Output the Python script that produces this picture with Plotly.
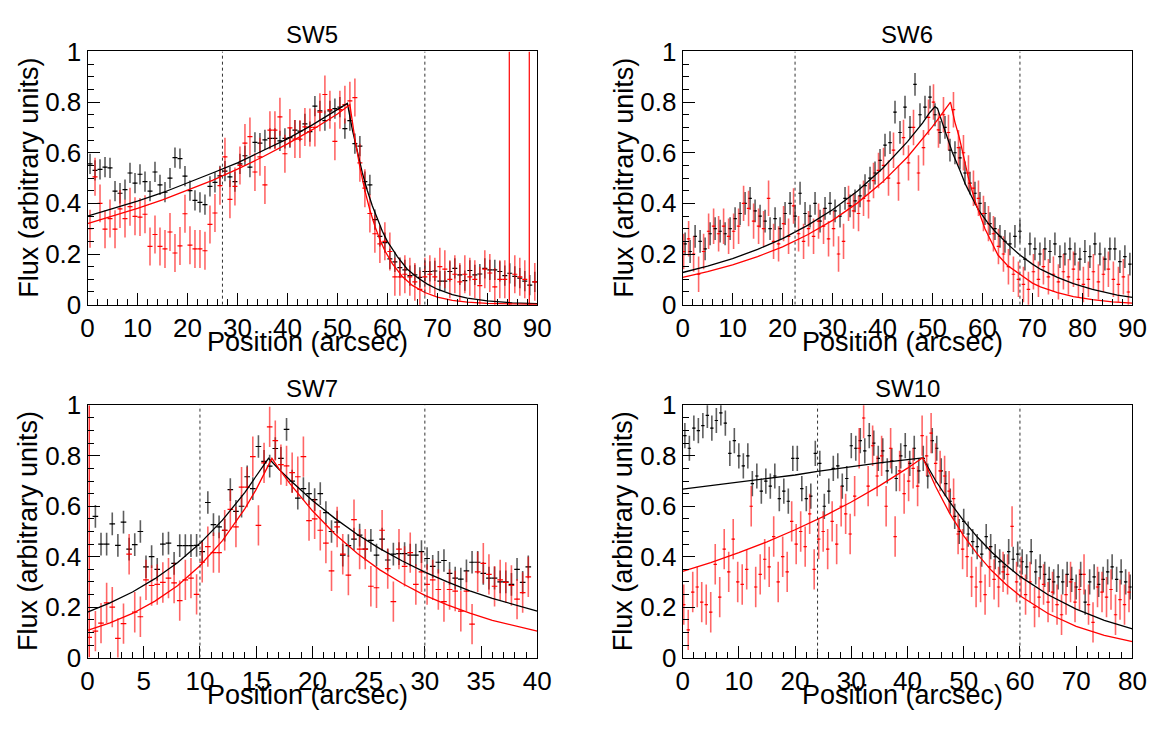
import plotly.graph_objects as go

W, H = 1167, 734
FONT = "Liberation Sans, Arial, Helvetica, sans-serif"

# ---------------- SW5 ----------------
sw5_black_y = [0.556, 0.53, 0.534, 0.543, 0.54, 0.448, 0.44, 0.454, 0.52, 0.48,
               0.515, 0.486, 0.448, 0.524, 0.473, 0.444, 0.50, 0.581, 0.577, 0.508,
               0.45, 0.412, 0.404, 0.395, 0.467, 0.483, 0.509, 0.527, 0.505, 0.486,
               0.556, 0.588, 0.543, 0.641, 0.638, 0.651, 0.657, 0.657, 0.647, 0.657,
               0.66, 0.689, 0.685, 0.714, 0.683, 0.784, 0.765, 0.727, 0.765, 0.774,
               0.78, 0.695, 0.727, 0.636, 0.626, 0.486, 0.473, 0.336, 0.27, 0.245,
               0.181, 0.169, 0.146, 0.137, 0.115, 0.118, 0.108, 0.131, 0.131, 0.133,
               0.093, 0.093, 0.131, 0.143, 0.118, 0.095, 0.135, 0.118, 0.121, 0.143,
               0.137, 0.137, 0.131, 0.115, 0.124, 0.112, 0.105, 0.093, 0.077, 0.09]
sw5_red_y = [0.30, 0.505, 0.40, 0.298, 0.34, 0.298, 0.378, 0.34, 0.387, 0.349,
             0.346, 0.357, 0.23, 0.277, 0.23, 0.22, 0.287, 0.204, 0.232, 0.359,
             0.235, 0.22, 0.22, 0.213, 0.317, 0.362, 0.47, 0.584, 0.416, 0.467,
             0.55, 0.638, 0.664, 0.524, 0.584, 0.473, 0.689, 0.689, 0.742, 0.596,
             0.698, 0.654, 0.654, 0.702, 0.70, 0.70, 0.76, 0.83, 0.77, 0.645,
             0.77, 0.79, 0.805, 0.818, 0.56, 0.46, 0.36, 0.28, 0.24, 0.25,
             0.21, 0.11, 0.11, 0.12, 0.11, 0.09, 0.06, 0.11, 0.12, 0.11,
             0.15, 0.14, 0.10, 0.12, 0.09, 0.12, 0.11, 0.10, 0.075, 0.14,
             0.125, 0.07, 0.10, 0.10, None, 0.12, 0.11, 0.10, None, 0.09]
sw5_black_x = [0.5 + i for i in range(len(sw5_black_y))]
sw5_red_x = [0.5 + i for i in range(len(sw5_red_y))]
sw5_red_out_x = [84.4, 88.4]
sw5_red_out_y = [0.003, 0.003]
sw5_fit_black_x = [0, 5, 10, 15, 20, 25, 30, 35, 40, 45, 50, 52, 53, 54, 55, 56, 57, 58, 59, 60,
                   62, 64, 66, 68, 70, 73, 76, 80, 85, 90]
sw5_fit_black_y = [0.350, 0.379, 0.409, 0.442, 0.480, 0.520, 0.560, 0.606, 0.655, 0.710, 0.770,
                   0.795, 0.69, 0.60, 0.52, 0.45, 0.39, 0.34, 0.29, 0.25, 0.19, 0.14, 0.107,
                   0.081, 0.061, 0.040, 0.026, 0.015, 0.007, 0.004]
sw5_fit_red_x = [0, 5, 10, 15, 20, 25, 30, 35, 40, 45, 50, 52.5, 53.5, 54.5, 55.5, 56.5, 57.5,
                 58.5, 59.5, 61, 63, 65, 67.5, 70, 73, 76, 80, 85, 90]
sw5_fit_red_y = [0.320, 0.349, 0.380, 0.414, 0.451, 0.491, 0.535, 0.583, 0.635, 0.691, 0.753,
                 0.790, 0.655, 0.543, 0.450, 0.374, 0.310, 0.257, 0.213, 0.162, 0.111, 0.076,
                 0.048, 0.030, 0.017, 0.010, 0.005, 0.002, 0.001]
sw5_dashes = [27, 67.5]

# ---------------- SW6 ----------------
sw6_black_y = [0.24, 0.21, 0.27, 0.25, 0.22, 0.28, 0.30, 0.29, 0.28, 0.30,
               0.34, 0.36, 0.40, 0.42, 0.37, 0.35, 0.33, 0.30, 0.34, 0.30,
               0.36, 0.40, 0.35, 0.44, 0.36, 0.35, 0.40, 0.33, 0.38, 0.40,
               0.37, 0.35, 0.42, 0.39, 0.41, 0.43, 0.47, 0.50, 0.52, 0.57,
               0.63, 0.64, 0.76, 0.68, 0.78, 0.70, 0.87, 0.75, 0.78, 0.82,
               0.75, 0.68, 0.70, 0.61, 0.60, 0.58, 0.52, 0.48, 0.44, 0.40,
               0.36, 0.32, 0.30, 0.27, 0.25, 0.24, 0.27, 0.29, 0.18, 0.24,
               0.22, 0.20, 0.22, 0.21, 0.24, 0.19, 0.20, 0.22, 0.20, 0.18,
               0.21, 0.19, 0.24, 0.20, 0.18, 0.22, 0.22, 0.17, 0.19, 0.16]
sw6_red_y = [0.21, 0.26, 0.20, 0.12, 0.21, 0.29, 0.31, 0.28, 0.31, 0.27,
             0.29, 0.31, 0.40, 0.38, 0.33, 0.31, 0.30, 0.42, 0.25, 0.24,
             0.32, 0.27, 0.39, 0.28, 0.25, 0.30, 0.27, 0.33, 0.31, 0.26,
             0.30, 0.20, 0.25, 0.40, 0.37, 0.36, 0.42, 0.41, 0.49, 0.53,
             0.55, 0.50, 0.61, 0.48, 0.66, 0.56, 0.70, 0.52, 0.62, 0.74,
             0.80, 0.69, 0.75, 0.68, 0.77, 0.62, 0.60, 0.52, 0.46, 0.42,
             0.36, 0.32, 0.28, 0.23, 0.20, 0.15, 0.12, 0.10, 0.08, 0.06,
             0.13, 0.10, 0.15, 0.11, 0.12, 0.09, 0.13, 0.11, 0.14, 0.10,
             0.08, 0.10, 0.13, 0.09, 0.12, 0.14, 0.10, 0.08, 0.11, 0.05]
sw6_black_x = [0.5 + i for i in range(len(sw6_black_y))]
sw6_red_x = [0.2 + i for i in range(len(sw6_red_y))]
sw6_fit_black_x = [0, 5, 10, 15, 20, 25, 30, 35, 40, 45, 48, 49.5, 50.5, 51, 52, 53, 54, 55.5,
                   56.6, 58, 59.2, 61, 62.5, 65, 67.5, 70, 71.6, 75, 78.2, 82, 84.7, 87, 90]
sw6_fit_black_y = [0.127, 0.152, 0.182, 0.218, 0.261, 0.313, 0.375, 0.449, 0.538, 0.644, 0.717,
                   0.76, 0.782, 0.775, 0.716, 0.655, 0.600, 0.53, 0.475, 0.42, 0.374, 0.325,
                   0.29, 0.24, 0.196, 0.16, 0.14, 0.108, 0.083, 0.06, 0.047, 0.038, 0.029]
sw6_fit_red_x = [0, 5, 10, 15, 20, 25, 30, 35, 40, 45, 50, 53.6, 54.5, 55.3, 56.3, 57.2, 58.5,
                 60.5, 63.1, 65, 67.5, 70, 71.6, 75, 78.2, 82, 86, 90]
sw6_fit_red_y = [0.108, 0.130, 0.157, 0.190, 0.228, 0.276, 0.333, 0.402, 0.484, 0.583, 0.703,
                 0.80, 0.72, 0.665, 0.58, 0.50, 0.41, 0.30, 0.196, 0.155, 0.12, 0.085, 0.07,
                 0.048, 0.032, 0.02, 0.011, 0.006]
sw6_dashes = [22.5, 67.5]

# ---------------- SW7 ----------------
sw7_black_y = [0.56, 0.45, 0.45, 0.53, 0.445, 0.537, 0.43, 0.448, 0.50, 0.36,
               0.40, 0.35, 0.45, 0.454, 0.374, 0.444, 0.444, 0.444, 0.445, 0.42,
               0.615, 0.527, 0.518, 0.505, 0.666, 0.58, 0.60, 0.717, 0.67, 0.837,
               0.778, 0.759, 0.829, 0.79, 0.905, 0.70, 0.632, 0.67, 0.65, 0.626,
               0.65, 0.575, 0.50, 0.537, 0.406, 0.444, 0.47, 0.486, 0.43, 0.465,
               0.406, 0.47, 0.387, 0.41, 0.412, 0.412, 0.406, 0.406, 0.42, 0.393,
               0.362, 0.378, 0.385, 0.334, 0.315, 0.311, 0.344, 0.378, 0.378, 0.334,
               0.315, 0.315, 0.30, 0.30, 0.29, 0.35, 0.298, 0.36]
sw7_red_y = [0.105, 0.137, 0.217, 0.20, 0.076, 0.135, 0.41, 0.18, 0.162, 0.308,
             0.286, 0.29, 0.298, 0.315, 0.296, 0.226, 0.308, 0.315, 0.251, 0.378,
             0.44, 0.416, 0.416, 0.505, 0.588, 0.518, 0.676, 0.676, 0.797, 0.524,
             0.772, 0.915, 0.86, 0.765, 0.76, 0.733, 0.717, 0.797, 0.543, 0.55,
             0.505, 0.454, 0.344, 0.518, 0.41, 0.327, 0.547, 0.43, 0.43, 0.283,
             0.277, 0.505, 0.353, 0.222, 0.43, 0.362, 0.416, 0.29, 0.34, 0.29,
             0.308, 0.27, 0.222, 0.27, 0.264, 0.184, 0.264, 0.133, 0.34, 0.374,
             0.33, 0.283, 0.308, 0.298, 0.286, 0.232, 0.258, 0.32]
sw7_black_x = [0.7 + 0.5 * i for i in range(len(sw7_black_y))]
sw7_red_x = [0.7 + 0.5 * i for i in range(len(sw7_red_y))]
sw7_red_out_x = [0.15]
sw7_red_out_y = [0.08]
sw7_fit_black_x = [0, 2, 4, 6, 8, 10, 12, 14, 15, 16.1, 17, 18, 20, 22, 24, 26, 28, 30, 32, 34,
                   36, 38, 40]
sw7_fit_black_y = [0.180, 0.217, 0.260, 0.313, 0.376, 0.453, 0.545, 0.655, 0.72, 0.79, 0.748,
                   0.704, 0.623, 0.552, 0.488, 0.432, 0.383, 0.339, 0.300, 0.265, 0.235, 0.208,
                   0.184]
sw7_fit_red_x = [0, 2, 4, 6, 8, 10, 12, 14, 15, 16.4, 17, 18, 20, 22, 24, 26, 28, 30, 32, 34,
                 36, 38, 40]
sw7_fit_red_y = [0.108, 0.138, 0.175, 0.224, 0.285, 0.364, 0.464, 0.591, 0.667, 0.79, 0.750,
                 0.690, 0.582, 0.490, 0.413, 0.348, 0.294, 0.247, 0.209, 0.176, 0.148, 0.125,
                 0.105]
sw7_dashes = [10, 30]

# ---------------- SW10 ----------------
sw10_black_y = [0.88, 0.83, 0.91, 0.90, 0.92, 0.96, 0.91, 0.94, 0.97, 0.93,
                0.81, 0.86, 0.80, 0.76, 0.80, 0.69, 0.72, 0.66, 0.70, 0.68,
                0.72, 0.63, 0.66, 0.62, 0.79, 0.79, 0.67, 0.63, 0.64, 0.81,
                0.77, 0.60, 0.66, 0.75, 0.76, 0.68, 0.71, 0.84, 0.83, 0.86,
                0.82, 0.88, 0.85, 0.79, 0.82, 0.74, 0.78, 0.71, 0.80, 0.84,
                0.77, 0.83, 0.74, 0.79, 0.72, 0.86, 0.83, 0.74, 0.69, 0.62,
                0.56, 0.50, 0.54, 0.49, 0.46, 0.44, 0.41, 0.48, 0.44, 0.40,
                0.38, 0.36, 0.42, 0.39, 0.41, 0.38, 0.36, 0.42, 0.34, 0.36,
                0.33, 0.31, 0.30, 0.32, 0.30, 0.33, 0.31, 0.28, 0.33, 0.22,
                0.30, 0.32, 0.29, 0.31, 0.34, 0.36, 0.31, 0.34, 0.30, 0.28]
sw10_red_y = [0.21, 0.11, 0.26, 0.28, 0.22, 0.21, 0.18, 0.37, 0.24, 0.43,
              0.34, 0.47, 0.30, 0.29, 0.35, 0.60, 0.28, 0.33, 0.39, 0.36,
              0.48, 0.30, 0.40, 0.34, 0.54, 0.45, 0.50, 0.44, 0.57, 0.35,
              0.47, 0.50, 0.43, 0.54, 0.45, 0.60, 0.57, 0.49, 0.64, 0.83,
              0.95, 0.68, 0.84, 0.72, 0.80, 0.60, 0.83, 0.48, 0.74, 0.65,
              0.70, 0.75, 0.68, 0.88, 0.80, 0.89, 0.77, 0.74, 0.72, 0.66,
              0.63, 0.49, 0.43, 0.40, 0.32, 0.28, 0.30, 0.25, 0.36, 0.31,
              0.28, 0.34, 0.33, 0.52, 0.30, 0.32, 0.25, 0.30, 0.20, 0.24,
              0.29, 0.22, 0.26, 0.21, 0.17, 0.25, 0.30, 0.22, 0.27, 0.33,
              0.21, 0.14, 0.28, 0.26, 0.24, 0.27, 0.17, 0.23, 0.21, 0.26]
sw10_black_x = [0.4 + 0.8 * i for i in range(len(sw10_black_y))]
sw10_red_x = [0.2 + 0.8 * i for i in range(len(sw10_red_y))]
sw10_fit_black_x = [0, 10, 20, 24, 30, 35, 40, 42.7, 45, 47.5, 50, 52.5, 55, 57.5, 60, 65, 70,
                    75, 80]
sw10_fit_black_y = [0.668, 0.695, 0.724, 0.738, 0.757, 0.772, 0.785, 0.792, 0.702, 0.617, 0.542,
                    0.476, 0.418, 0.367, 0.322, 0.249, 0.192, 0.148, 0.114]
sw10_fit_red_x = [0, 5, 10, 15, 20, 25, 30, 35, 40, 42.7, 45, 47.5, 50, 52.5, 55, 57.5, 60, 65,
                  70, 75, 80]
sw10_fit_red_y = [0.342, 0.377, 0.416, 0.459, 0.507, 0.559, 0.617, 0.681, 0.751, 0.792, 0.678,
                  0.572, 0.483, 0.408, 0.344, 0.291, 0.245, 0.175, 0.124, 0.088, 0.063]
sw10_dashes = [24, 60]

titles = ["SW5", "SW6", "SW7", "SW10"]
x_ranges = [90, 90, 40, 80]
x_dticks = [10, 10, 5, 10]
x_halfwidth = [0.5, 0.35, 0.25, 0.3]
black_err = [0.04, 0.045, 0.045, 0.05]
red_err = [0.075, 0.07, 0.08, 0.08]

# pixel boxes of the four frames: (left, right, top, bottom)
boxes = [(82, 540, 38, 302), (688, 1146, 38, 302), (82, 540, 407, 670), (688, 1146, 407, 670)]

panels = [
    (sw5_black_x, sw5_black_y, sw5_red_x, sw5_red_y, sw5_fit_black_x, sw5_fit_black_y,
     sw5_fit_red_x, sw5_fit_red_y, sw5_dashes, sw5_red_out_x, sw5_red_out_y),
    (sw6_black_x, sw6_black_y, sw6_red_x, sw6_red_y, sw6_fit_black_x, sw6_fit_black_y,
     sw6_fit_red_x, sw6_fit_red_y, sw6_dashes, [], []),
    (sw7_black_x, sw7_black_y, sw7_red_x, sw7_red_y, sw7_fit_black_x, sw7_fit_black_y,
     sw7_fit_red_x, sw7_fit_red_y, sw7_dashes, sw7_red_out_x, sw7_red_out_y),
    (sw10_black_x, sw10_black_y, sw10_red_x, sw10_red_y, sw10_fit_black_x, sw10_fit_black_y,
     sw10_fit_red_x, sw10_fit_red_y, sw10_dashes, [], []),
]

fig = go.Figure()
layout = dict(width=W, height=H, margin=dict(l=0, r=0, t=0, b=0),
              paper_bgcolor="white", plot_bgcolor="white", showlegend=False,
              font=dict(family=FONT, color="black"))
annotations = []
shapes = []

for k, (bx, by, rx, ry, fbx, fby, frx, fry, dashes, ox, oy) in enumerate(panels):
    n = k + 1
    xa = "x" if n == 1 else f"x{n}"
    ya = "y" if n == 1 else f"y{n}"
    L, R, T, B = boxes[k]
    xdom = [L / W, R / W]
    ydom = [1 - B / H, 1 - T / H]
    common = dict(showline=True, linecolor="black", linewidth=1, mirror=True,
                  showgrid=False, zeroline=False, ticks="inside", ticklen=12,
                  tickwidth=1, tickcolor="black",
                  tickfont=dict(family=FONT, size=26, color="black"))
    layout["xaxis" if n == 1 else f"xaxis{n}"] = dict(
        domain=xdom, range=[0, x_ranges[k]], anchor=ya, tick0=0, dtick=x_dticks[k],
        minor=dict(dtick=x_dticks[k] / 5, ticks="inside", ticklen=6, tickcolor="black"),
        **common)
    layout["yaxis" if n == 1 else f"yaxis{n}"] = dict(
        domain=ydom, range=[0, 1], anchor=xa, tick0=0, dtick=0.2,
        minor=dict(dtick=0.05, ticks="inside", ticklen=6, tickcolor="black"),
        **common)

    # dashed region markers
    for d in dashes:
        shapes.append(dict(type="line", xref=xa, yref=ya, x0=d, x1=d, y0=0, y1=1,
                           line=dict(color="#333333", width=1, dash="3px,3px")))

    # data with error bars
    fig.add_trace(go.Scatter(
        x=bx, y=by, xaxis=xa, yaxis=ya, mode="markers",
        marker=dict(size=1, color="black"),
        error_y=dict(type="constant", value=black_err[k], color="rgba(40,40,40,0.75)",
                     thickness=1.6, width=0),
        error_x=dict(type="constant", value=x_halfwidth[k], color="black",
                     thickness=1.2, width=0)))
    fig.add_trace(go.Scatter(
        x=rx, y=ry, xaxis=xa, yaxis=ya, mode="markers",
        marker=dict(size=1, color="red"),
        error_y=dict(type="constant", value=red_err[k], color="rgba(255,0,0,0.6)",
                     thickness=1.6, width=0),
        error_x=dict(type="constant", value=x_halfwidth[k], color="red",
                     thickness=1.2, width=0)))
    if ox:
        fig.add_trace(go.Scatter(
            x=ox, y=oy, xaxis=xa, yaxis=ya, mode="markers",
            marker=dict(size=1, color="red"),
            error_y=dict(type="data", array=[1.0 - v for v in oy], arrayminus=oy,
                         color="red", thickness=1.2, width=0),
            error_x=dict(type="constant", value=x_halfwidth[k], color="red",
                         thickness=1.2, width=0)))

    # fit curves
    fig.add_trace(go.Scatter(x=fbx, y=fby, xaxis=xa, yaxis=ya, mode="lines",
                             line=dict(color="black", width=1.3)))
    fig.add_trace(go.Scatter(x=frx, y=fry, xaxis=xa, yaxis=ya, mode="lines",
                             line=dict(color="red", width=1.3)))

    cx = (L + R) / 2 / W
    annotations.append(dict(text=titles[k], xref="paper", yref="paper", x=cx,
                            y=1 - (T - 18) / H, xanchor="center", yanchor="middle",
                            showarrow=False, font=dict(family=FONT, size=24, color="black")))
    annotations.append(dict(text="Position (arcsec)", xref="paper", yref="paper",
                            x=(L + R) / 2 / W - 5 / W, y=1 - (B + 39) / H,
                            xanchor="center", yanchor="middle", showarrow=False,
                            font=dict(family=FONT, size=27, color="black")))
    annotations.append(dict(text="Flux (arbitrary units)", xref="paper", yref="paper",
                            x=(L - 60) / W, y=1 - (T + B) / 2 / H, textangle=-90,
                            xanchor="center", yanchor="middle", showarrow=False,
                            font=dict(family=FONT, size=27, color="black")))

layout["annotations"] = annotations
layout["shapes"] = shapes
fig.update_layout(**layout)
fig.write_html("out.html",
               post_script="document.body.style.margin='0px';"
                           "document.body.style.overflow='hidden';")
